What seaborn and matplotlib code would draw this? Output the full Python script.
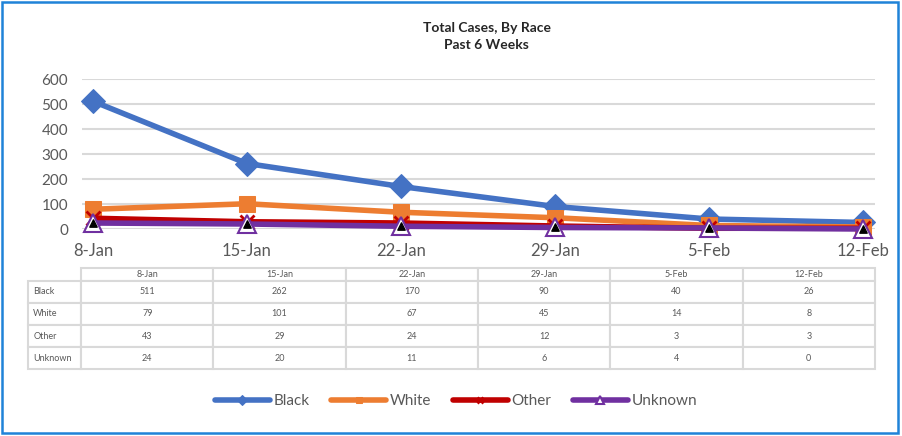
import pandas as pd
import matplotlib.pyplot as plt
import seaborn as sns
from matplotlib.table import Table
from matplotlib.patches import Rectangle

weeks = ['8-Jan', '15-Jan', '22-Jan', '29-Jan', '5-Feb', '12-Feb']
races = ['Black', 'White', 'Other', 'Unknown']
black = [511, 262, 170, 90, 40, 26]
white = [79, 101, 67, 45, 14, 8]
other = [43, 29, 24, 12, 3, 3]
unknown = [24, 20, 11, 6, 4, 0]
yticks = [0, 100, 200, 300, 400, 500, 600]

series = {'Black': black, 'White': white, 'Other': other, 'Unknown': unknown}
df = pd.DataFrame([(r, w, v) for r in races for w, v in zip(weeks, series[r])],
                  columns=['race', 'week', 'cases'])

colors = {'Black': '#4472C4', 'White': '#ED7D31', 'Other': '#C00000', 'Unknown': '#7030A0'}
marker_kw = {
    'Black': dict(marker='D', markersize=12, markerfacecolor='#4472C4', markeredgecolor='#4472C4'),
    'White': dict(marker='s', markersize=11, markerfacecolor='#ED7D31', markeredgecolor='#ED7D31'),
    'Other': dict(marker='x', markersize=10, markeredgewidth=2, markeredgecolor='#C00000'),
    'Unknown': dict(marker='^', markersize=13, markerfacecolor='white', markeredgecolor='#7030A0',
                    markeredgewidth=1.5),
}

sns.set_style('white')
plt.rcParams['font.family'] = ['Lato', 'DejaVu Sans']

fig = plt.figure(figsize=(9.02, 4.36), dpi=100)
ax = fig.add_axes([82 / 902, 1 - 229 / 436, 793 / 902, 150 / 436])

for r in races:
    sub = df[df['race'] == r]
    sns.lineplot(data=sub, x='week', y='cases', ax=ax, color=colors[r], lw=4,
                 label=r, clip_on=False, **marker_kw[r])

# black droplet inside the Unknown triangles
ax.scatter(weeks, unknown, marker='^', s=28, color='black', zorder=5, clip_on=False)

ax.set_xlim(-0.071, 5.078)
ax.set_ylim(0, 600)
ax.set_yticks(yticks)
ax.grid(axis='y', color='#d9d9d9', lw=1.5)
ax.set_axisbelow(True)
for s in ax.spines.values():
    s.set_visible(False)
ax.tick_params(axis='y', length=0, pad=10, labelsize=11, labelcolor='#595959')
ax.tick_params(axis='x', length=0, pad=10, labelsize=12, labelcolor='#595959')
ax.set_xlabel('')
ax.set_ylabel('')
ax.get_legend().remove()

fig.text(0.5394, 1 - 28 / 436, 'Total Cases, By Race', ha='center', va='center',
         fontsize=10, fontweight='bold')
fig.text(0.5394, 1 - 45 / 436, 'Past 6 Weeks', ha='center', va='center',
         fontsize=10, fontweight='bold')

# data table under the chart
tax = fig.add_axes([28 / 902, 1 - 369 / 436, 847 / 902, 101 / 436])
tax.axis('off')
tbl = Table(tax, bbox=[0, 0, 1, 1])
lw_col, dw_col, hh, rh = 53, 132, 13, 22
for j, w in enumerate(weeks):
    c = tbl.add_cell(0, j + 1, dw_col, hh, text=w, loc='center')
for i, r in enumerate(races):
    tbl.add_cell(i + 1, 0, lw_col, rh, text=r, loc='left')
    for j, v in enumerate(series[r]):
        tbl.add_cell(i + 1, j + 1, dw_col, rh, text=str(v), loc='center')
tbl.auto_set_font_size(False)
tbl.set_fontsize(6.5)
for cell in tbl.get_celld().values():
    cell.set_edgecolor('#d9d9d9')
    cell.set_linewidth(1.5)
    cell.get_text().set_color('#595959')
tax.add_table(tbl)

handles, labels = ax.get_legend_handles_labels()
fig.legend(handles, labels, loc='center', bbox_to_anchor=(456 / 902, 1 - 401 / 436),
           ncol=4, frameon=False, fontsize=11, handlelength=3.6, handletextpad=0.25,
           columnspacing=1.4, markerscale=0.45, labelcolor='#595959')

fig.patches.append(Rectangle((0.002, 0.007), 0.994, 0.988, transform=fig.transFigure,
                             fill=False, edgecolor='#1F83D8', lw=1.8))

fig.savefig('out.png', dpi=100)
